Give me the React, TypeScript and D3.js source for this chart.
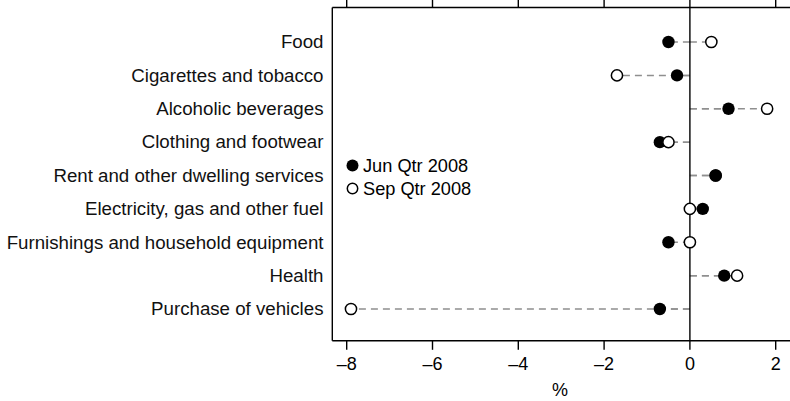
import * as d3 from 'd3'

const categories = [
  'Food',
  'Cigarettes and tobacco',
  'Alcoholic beverages',
  'Clothing and footwear',
  'Rent and other dwelling services',
  'Electricity, gas and other fuel',
  'Furnishings and household equipment',
  'Health',
  'Purchase of vehicles',
]
const junQtr = [-0.5, -0.3, 0.9, -0.7, 0.6, 0.3, -0.5, 0.8, -0.7]
const sepQtr = [0.5, -1.7, 1.8, -0.5, 0.6, 0, 0, 1.1, -7.9]
const xTicks = [-8, -6, -4, -2, 0, 2]
const seriesNames = ['Jun Qtr 2008', 'Sep Qtr 2008']

const width = 790
const height = 401
const font = "'Liberation Sans', Arial, sans-serif"

export default function App() {
  const frameLeft = 332.3
  const frameTop = 7.5
  const frameBottom = 340.8

  const x = d3.scaleLinear().domain([-8, 2]).range([346.7, 775.7])
  const y = d3.scalePoint<string>().domain(categories).range([42, 309])

  const rows = categories.map((c, i) => ({ c, jun: junQtr[i], sep: sepQtr[i] }))
  const fmt = (v: number) => (v < 0 ? '\u2013' + Math.abs(v) : String(v))

  const filled = (r: { c: string; jun: number }) => (
    <circle cx={x(r.jun)} cy={y(r.c)} r={6.2} fill="#000" />
  )
  const hollow = (r: { c: string; sep: number }) => (
    <circle cx={x(r.sep)} cy={y(r.c)} r={5.6} fill="#fff" stroke="#000" strokeWidth={1.5} />
  )

  return (
    <div style={{ position: 'fixed', left: 0, top: 0 }}>
      <svg width={width} height={height} style={{ display: 'block', fontFamily: font }}>
        <rect width={width} height={height} fill="#fff" />

        {/* dashed leaders from zero to each point */}
        {rows.map((r) =>
          [r.jun, r.sep].map((v, k) => (
            <line
              key={r.c + k}
              x1={x(0)}
              x2={x(v)}
              y1={y(r.c)}
              y2={y(r.c)}
              stroke="#8f8f8f"
              strokeWidth={1.5}
              strokeDasharray="7,5"
            />
          ))
        )}

        {/* frame */}
        <line x1={frameLeft} x2={width} y1={frameTop} y2={frameTop} stroke="#000" strokeWidth={1.4} />
        <line x1={frameLeft} x2={width} y1={frameBottom} y2={frameBottom} stroke="#000" strokeWidth={1.4} />
        <line x1={frameLeft} x2={frameLeft} y1={frameTop} y2={frameBottom} stroke="#000" strokeWidth={1.4} />
        <line x1={x(0)} x2={x(0)} y1={frameTop} y2={frameBottom} stroke="#000" strokeWidth={1.4} />

        {xTicks.map((t) => (
          <g key={t}>
            <line x1={x(t)} x2={x(t)} y1={frameTop} y2={frameTop - 8} stroke="#000" strokeWidth={1.4} />
            <line x1={x(t)} x2={x(t)} y1={frameBottom} y2={frameBottom + 9} stroke="#000" strokeWidth={1.4} />
            <text x={x(t)} y={370} textAnchor="middle" fontSize={18} fill="#000">
              {fmt(t)}
            </text>
          </g>
        ))}
        <text x={560} y={396} textAnchor="middle" fontSize={18} fill="#000">
          %
        </text>

        {categories.map((c) => (
          <text key={c} x={323.5} y={y(c)! + 6.3} textAnchor="end" fontSize={18.7} fill="#111">
            {c}
          </text>
        ))}

        {/* open markers on top, except where both values coincide */}
        {rows.map((r) => (
          <g key={r.c}>
            {r.jun === r.sep ? hollow(r) : filled(r)}
            {r.jun === r.sep ? filled(r) : hollow(r)}
          </g>
        ))}

        {/* legend */}
        <circle cx={352.5} cy={165.5} r={6} fill="#000" />
        <text x={363} y={171.5} fontSize={18.2} fill="#000">
          {seriesNames[0]}
        </text>
        <circle cx={352.5} cy={188.5} r={5.2} fill="#fff" stroke="#000" strokeWidth={1.5} />
        <text x={363} y={194.5} fontSize={18.2} fill="#000">
          {seriesNames[1]}
        </text>
      </svg>
    </div>
  )
}
